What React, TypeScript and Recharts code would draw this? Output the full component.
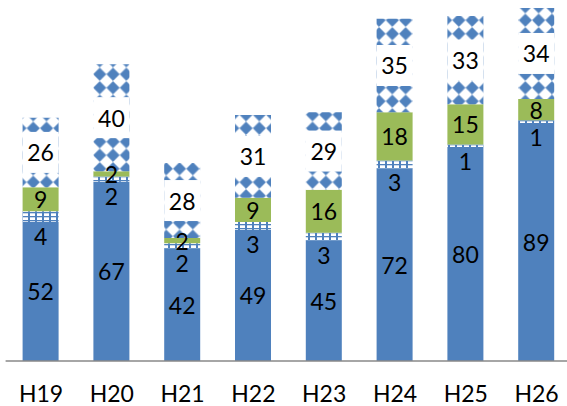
import { BarChart, Bar, XAxis, YAxis, LabelList } from 'recharts';

const categories = ['H19', 'H20', 'H21', 'H22', 'H23', 'H24', 'H25', 'H26'];
const solidValues = [52, 67, 42, 49, 45, 72, 80, 89];
const gridValues = [4, 2, 2, 3, 3, 3, 1, 1];
const greenValues = [9, 2, 2, 9, 16, 18, 15, 8];
const diamondValues = [26, 40, 28, 31, 29, 35, 33, 34];

const BLUE = '#4F81BD';
const GREEN = '#9BBB59';
const FONT = 'Lato, "Noto Sans", sans-serif';
const FONT_SIZE = 23;

const data = categories.map((name, i) => ({
  name,
  solid: solidValues[i],
  grid: gridValues[i],
  green: greenValues[i],
  diamond: diamondValues[i],
}));

function CenterLabel(props: any) {
  const { x, y, width, height, value } = props;
  return (
    <text
      x={x + width / 2}
      y={y + height / 2}
      textAnchor="middle"
      dominantBaseline="central"
      fontSize={FONT_SIZE}
      fontFamily={FONT}
      fill="#000"
    >
      {value}
    </text>
  );
}

// grid segment labels sit just under the thin band
function BelowLabel(props: any) {
  const { x, y, width, height, value } = props;
  return (
    <text
      x={x + width / 2}
      y={y + height + 14}
      textAnchor="middle"
      dominantBaseline="central"
      fontSize={FONT_SIZE}
      fontFamily={FONT}
      fill="#000"
    >
      {value}
    </text>
  );
}

function BoxLabel(props: any) {
  const { x, y, width, height, value } = props;
  const cy = y + height / 2;
  return (
    <g>
      <rect x={x} y={cy - 20.5} width={width} height={41} fill="#fff" />
      <text
        x={x + width / 2}
        y={cy}
        textAnchor="middle"
        dominantBaseline="central"
        fontSize={FONT_SIZE}
        fontFamily={FONT}
        fill="#000"
      >
        {value}
      </text>
    </g>
  );
}

function CategoryTick(props: any) {
  const { x, payload } = props;
  return (
    <text
      x={x}
      y={393}
      textAnchor="middle"
      dominantBaseline="central"
      fontSize={FONT_SIZE}
      fontFamily={FONT}
      fill="#000"
    >
      {payload.value}
    </text>
  );
}

export default function App() {
  return (
    <div style={{ position: 'relative', width: 567, height: 406, overflow: 'hidden', background: '#fff' }}>
      <style>{`body { margin: 0; }`}</style>
      <BarChart
        width={572}
        height={406}
        data={data}
        margin={{ top: 8, right: 0, left: 5.6, bottom: 5 }}
        barSize={36}
      >
        <defs>
          <pattern id="smallGrid" patternUnits="userSpaceOnUse" width={7} height={4}>
            <rect width={7} height={4} fill="#fff" />
            <rect x={0} y={0} width={2} height={4} fill={BLUE} />
            <rect x={0} y={0} width={7} height={1.3} fill={BLUE} />
          </pattern>
          <pattern id="diamonds" patternUnits="userSpaceOnUse" width={13.3} height={13.5}>
            <rect width={13.3} height={13.5} fill="#fff" />
            <polygon
              points="6.65,0.4 12.9,6.75 6.65,13.1 0.4,6.75"
              fill={BLUE}
              stroke={BLUE}
              strokeWidth={0.6}
              strokeLinejoin="round"
            />
          </pattern>
        </defs>
        <XAxis
          dataKey="name"
          height={40}
          tickLine={false}
          axisLine={{ stroke: '#888888', strokeWidth: 1.6 }}
          tick={<CategoryTick />}
          interval={0}
        />
        <YAxis hide domain={[0, 132]} />
        <Bar dataKey="solid" stackId="a" fill={BLUE} isAnimationActive={false}>
          <LabelList dataKey="solid" content={<CenterLabel />} />
        </Bar>
        <Bar dataKey="grid" stackId="a" fill="url(#smallGrid)" isAnimationActive={false}>
          <LabelList dataKey="grid" content={<BelowLabel />} />
        </Bar>
        <Bar dataKey="green" stackId="a" fill={GREEN} isAnimationActive={false}>
          <LabelList dataKey="green" content={<CenterLabel />} />
        </Bar>
        <Bar dataKey="diamond" stackId="a" fill="url(#diamonds)" isAnimationActive={false}>
          <LabelList dataKey="diamond" content={<BoxLabel />} />
        </Bar>
      </BarChart>
    </div>
  );
}
